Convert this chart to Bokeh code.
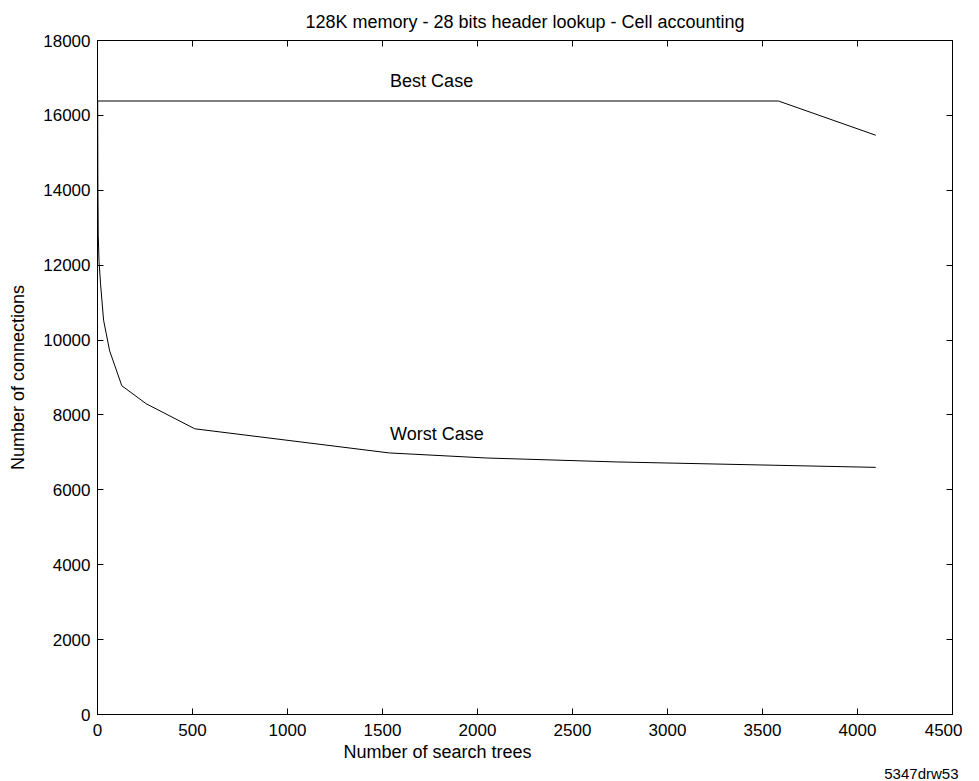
from bokeh.plotting import figure
from bokeh.models import FixedTicker, LinearAxis, Range1d, Label, Title, BasicTickFormatter
from bokeh.embed import file_html
from bokeh.resources import INLINE

# Data
best_x = [1, 3584, 4096]
best_y = [16384, 16384, 15470]
worst_x = [1, 2, 4, 8, 16, 32, 64, 128, 256, 512, 1536, 2048, 2730, 4096]
worst_y = [16384, 14200, 12800, 12100, 11500, 10530, 9710, 8780, 8300, 7630, 6985, 6850, 6745, 6600]
x_ticks = [0, 500, 1000, 1500, 2000, 2500, 3000, 3500, 4000, 4500]
y_ticks = [0, 2000, 4000, 6000, 8000, 10000, 12000, 14000, 16000, 18000]
title_text = "128K memory - 28 bits header lookup - Cell accounting"
x_label = "Number of search trees"
y_label = "Number of connections"
note_text = "5347drw53"
best_label = ("Best Case", 1540, 16930)
worst_label = ("Worst Case", 1540, 7490)

FONT = "Liberation Sans"
FS = "18px"
TFS = "17px"

p = figure(width=962, height=781, output_backend="svg", toolbar_location=None,
           x_range=Range1d(0, 4500), y_range=Range1d(0, 18000),
           x_axis_location=None, y_axis_location=None,
           min_border_left=97, min_border_right=10, min_border_top=0, min_border_bottom=0)
p.title.text = title_text
p.title.align = "center"
p.title.text_font = FONT
p.title.text_font_size = FS
p.title.text_font_style = "normal"
p.title.text_color = "black"
p.title.standoff = 18
p.grid.visible = False
p.outline_line_color = "black"
p.outline_line_width = 1
p.background_fill_color = "white"
p.border_fill_color = "white"

def mk_axis(ticks, show_labels):
    ax = LinearAxis(ticker=FixedTicker(ticks=ticks),
                    formatter=BasicTickFormatter(use_scientific=False))
    ax.major_tick_in = 6
    ax.major_tick_out = 0
    ax.minor_tick_in = 0
    ax.minor_tick_out = 0
    ax.axis_line_color = "black"
    ax.major_tick_line_color = "black"
    ax.major_label_text_font = FONT
    ax.major_label_text_font_size = TFS
    ax.major_label_text_color = "black"
    if not show_labels:
        ax.major_label_text_font_size = "0px"
        ax.major_label_text_alpha = 0
    return ax

ax_b = mk_axis(x_ticks, True)
ax_b.major_label_standoff = 9
p.add_layout(ax_b, "below")
ax_l = mk_axis(y_ticks, True)
ax_l.major_label_standoff = 7
ax_l.axis_label = y_label
ax_l.axis_label_text_font = FONT
ax_l.axis_label_text_font_size = FS
ax_l.axis_label_text_font_style = "normal"
ax_l.axis_label_text_color = "black"
ax_l.axis_label_standoff = 12
p.add_layout(ax_l, "left")
p.add_layout(mk_axis(x_ticks, False), "above")
p.add_layout(mk_axis(y_ticks, False), "right")

p.add_layout(Title(text=x_label, align="left", offset=246, text_font=FONT,
                   text_font_size=FS, text_font_style="normal", text_color="black",
                   standoff=2), "below")
p.add_layout(Title(text=note_text, align="right", offset=-6, text_font=FONT,
                   text_font_size="15px", text_font_style="normal", text_color="black",
                   standoff=0), "below")

p.line(best_x, best_y, line_color="black", line_width=1)
p.line(worst_x, worst_y, line_color="black", line_width=1)

for t, x, y in (best_label, worst_label):
    p.add_layout(Label(x=x, y=y, text=t, text_font=FONT, text_font_size=FS,
                       text_align="left", text_baseline="middle", text_color="black"))

open("out.html", "w").write(file_html(p, INLINE))
